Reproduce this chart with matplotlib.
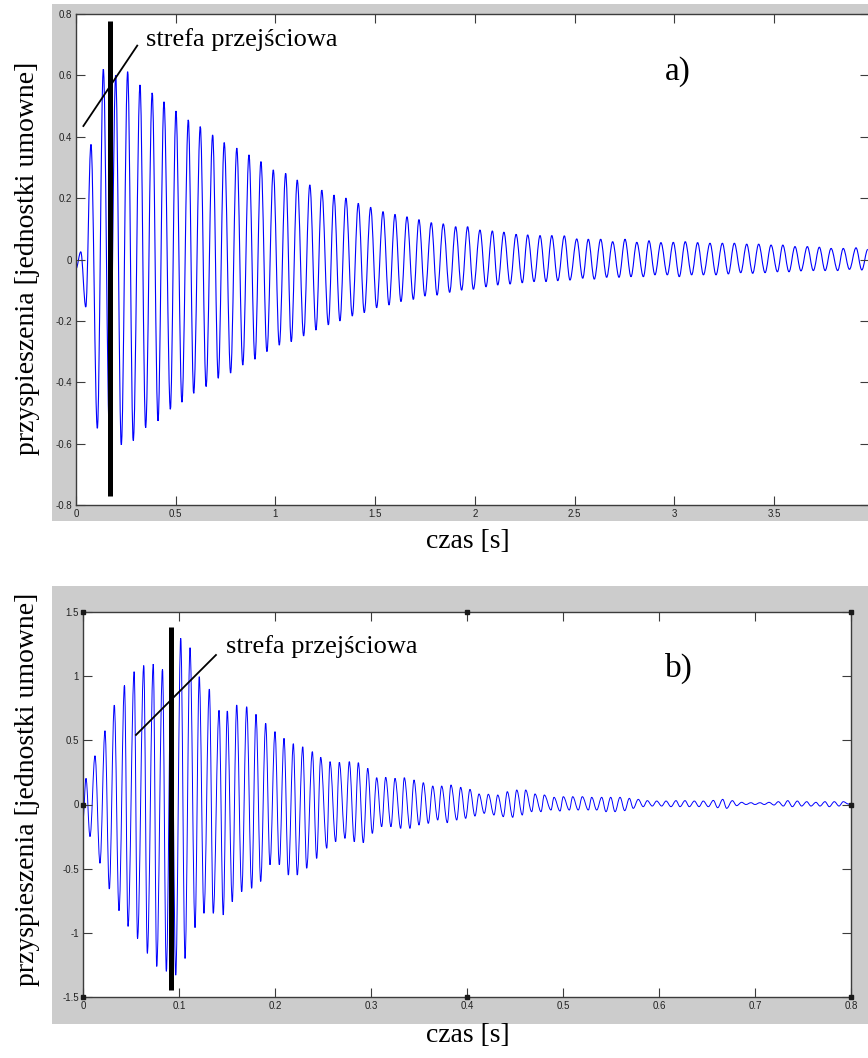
import matplotlib
matplotlib.use("Agg")
import matplotlib.pyplot as plt
from matplotlib.patches import Rectangle, PathPatch
from matplotlib.path import Path

matplotlib.rcParams['axes.unicode_minus'] = False

# --- dane (ekstrema kolejnych połówek okresu) ---
# a) czas [s] i przyspieszenie
t_top = [0.000, 0.024, 0.049, 0.075, 0.107, 0.137, 0.168, 0.199, 0.227, 0.259,
         0.287, 0.321, 0.349, 0.382, 0.411, 0.441, 0.473, 0.501, 0.531, 0.563,
         0.590, 0.623, 0.652, 0.685, 0.713, 0.743, 0.775, 0.806, 0.836, 0.867,
         0.897, 0.927, 0.957, 0.989, 1.019, 1.051, 1.079, 1.109, 1.141, 1.172,
         1.203, 1.232, 1.265, 1.293, 1.323, 1.353, 1.385, 1.415, 1.445, 1.477,
         1.507, 1.539, 1.569, 1.599, 1.629, 1.659, 1.691, 1.719, 1.749, 1.781,
         1.810, 1.841, 1.873, 1.903, 1.933, 1.963, 1.992, 2.025, 2.055, 2.087,
         2.114, 2.145, 2.176, 2.206, 2.237, 2.264, 2.296, 2.326, 2.356, 2.385,
         2.415, 2.448, 2.476, 2.510, 2.540, 2.568, 2.598, 2.630, 2.660, 2.690,
         2.722, 2.752, 2.782, 2.811, 2.844, 2.872, 2.902, 2.932, 2.964, 2.994,
         3.024, 3.054, 3.086, 3.116, 3.145, 3.178, 3.208, 3.240, 3.270, 3.300,
         3.332, 3.362, 3.392, 3.422, 3.454, 3.484, 3.516, 3.543, 3.574, 3.604,
         3.634, 3.666, 3.696, 3.726, 3.755, 3.785, 3.818, 3.846, 3.877, 3.910,
         3.939, 3.969]
a_top = [-0.03, 0.025, -0.155, 0.375, -0.55, 0.62, -0.58, 0.60, -0.604, 0.612,
         -0.59, 0.569, -0.548, 0.543, -0.526, 0.514, -0.488, 0.484, -0.465, 0.455,
         -0.436, 0.433, -0.414, 0.406, -0.387, 0.381, -0.37, 0.363, -0.344, 0.341,
         -0.325, 0.319, -0.30, 0.292, -0.279, 0.281, -0.268, 0.259, -0.249, 0.243,
         -0.23, 0.226, -0.213, 0.21, -0.2, 0.2, -0.184, 0.183, -0.173, 0.170,
         -0.157, 0.156, -0.148, 0.147, -0.137, 0.139, -0.130, 0.130, -0.119, 0.12,
         -0.116, 0.116, -0.107, 0.107, -0.10, 0.107, -0.097, 0.096, -0.089, 0.093,
         -0.083, 0.089, -0.08, 0.082, -0.076, 0.08, -0.072, 0.078, -0.072, 0.078,
         -0.069, 0.077, -0.067, 0.067, -0.061, 0.066, -0.064, 0.066, -0.058, 0.058,
         -0.058, 0.066, -0.056, 0.056, -0.056, 0.061, -0.05, 0.055, -0.05, 0.056,
         -0.056, 0.058, -0.05, 0.055, -0.05, 0.053, -0.05, 0.053, -0.047, 0.053,
         -0.043, 0.05, -0.045, 0.05, -0.043, 0.047, -0.04, 0.047, -0.04, 0.042,
         -0.037, 0.042, -0.036, 0.04, -0.036, 0.036, -0.036, 0.036, -0.032, 0.038,
         -0.034, 0.033]

# b) czas [s] i przyspieszenie
t_bot = [0.0, 0.0031, 0.0073, 0.0125, 0.0177, 0.0229, 0.0274, 0.0326, 0.0375, 0.0432,
         0.0469, 0.0533, 0.0568, 0.0633, 0.0670, 0.0732, 0.0768, 0.0828, 0.0868, 0.0920,
         0.0966, 0.1018, 0.1063, 0.1115, 0.1167, 0.1211, 0.1260, 0.1316, 0.1357, 0.1417,
         0.1461, 0.1503, 0.1555, 0.1601, 0.1653, 0.1705, 0.1757, 0.1802, 0.1851, 0.1903,
         0.1948, 0.2000, 0.2045, 0.2094, 0.2139, 0.2191, 0.2232, 0.2289, 0.2330, 0.2389,
         0.2434, 0.2476, 0.2539, 0.2573, 0.2632, 0.2670, 0.2729, 0.2774, 0.2826, 0.2868,
         0.2920, 0.2966, 0.3014, 0.3059, 0.3111, 0.3153, 0.3208, 0.3250, 0.3309, 0.3347,
         0.3406, 0.3448, 0.3500, 0.3545, 0.3597, 0.3643, 0.3695, 0.3736, 0.3795, 0.3833,
         0.3893, 0.3934, 0.3986, 0.4031, 0.4083, 0.4125, 0.4180, 0.4222, 0.4281, 0.4320,
         0.4378, 0.4420, 0.4476, 0.4518, 0.4576, 0.4611, 0.4674, 0.4708, 0.4771, 0.4805,
         0.4875, 0.4906, 0.4969, 0.5003, 0.5066, 0.5101, 0.5159, 0.5201, 0.5264, 0.5299,
         0.5351, 0.5403, 0.5448, 0.5497, 0.5542, 0.5594, 0.5643, 0.5691, 0.5732, 0.5784,
         0.5836, 0.5878, 0.5930, 0.5976, 0.6028, 0.6073, 0.6125, 0.6177, 0.6219, 0.6271,
         0.6316, 0.6368, 0.6417, 0.6461, 0.6514, 0.6566, 0.6611, 0.6664, 0.6705, 0.6764,
         0.6809, 0.6861, 0.6906, 0.6958, 0.7000, 0.7052, 0.7097, 0.7146, 0.7198, 0.7243,
         0.7295, 0.7341, 0.7389, 0.7441, 0.7486, 0.7539, 0.7583, 0.7635, 0.7677, 0.7729,
         0.7774, 0.7826, 0.7875, 0.7920, 0.7972, 0.8000]
a_bot = [-0.12, 0.204, -0.25, 0.38, -0.458, 0.575, -0.659, 0.775, -0.828, 0.93,
         -0.95, 1.035, -1.045, 1.083, -1.16, 1.094, -1.262, 1.055, -1.30, 1.15,
         -1.33, 1.295, -1.2, 1.222, -0.96, 0.996, -0.848, 0.9, -0.848, 0.734,
         -0.861, 0.729, -0.758, 0.776, -0.68, 0.762, -0.653, 0.703, -0.60, 0.633,
         -0.47, 0.568, -0.47, 0.516, -0.55, 0.474, -0.55, 0.45, -0.497, 0.412,
         -0.42, 0.368, -0.341, 0.334, -0.29, 0.329, -0.264, 0.334, -0.29, 0.326,
         -0.298, 0.282, -0.225, 0.209, -0.173, 0.212, -0.173, 0.204, -0.186, 0.209,
         -0.186, 0.191, -0.16, 0.17, -0.147, 0.144, -0.121, 0.144, -0.142, 0.152,
         -0.121, 0.134, -0.108, 0.118, -0.09, 0.082, -0.069, 0.08, -0.082, 0.074,
         -0.095, 0.1, -0.1, 0.113, -0.082, 0.113, -0.056, 0.082, -0.056, 0.074,
         -0.043, 0.056, -0.051, 0.061, -0.043, 0.061, -0.043, 0.061, -0.043, 0.056,
         -0.043, 0.056, -0.056, 0.056, -0.056, 0.056, -0.048, 0.048, -0.03, 0.04,
         -0.017, 0.03, -0.012, 0.027, -0.012, 0.027, -0.017, 0.03, -0.017, 0.03,
         -0.017, 0.027, -0.017, 0.027, -0.017, 0.032, -0.025, 0.04, -0.03, 0.03,
         -0.009, 0.017, 0.0, 0.014, 0.0, 0.014, 0.0, 0.017, -0.004, 0.022,
         -0.012, 0.03, -0.017, 0.027, -0.012, 0.022, -0.012, 0.017, -0.012, 0.022,
         -0.017, 0.022, -0.012, 0.022, 0.004, 0.0]

xticks_top = [0, 0.5, 1, 1.5, 2, 2.5, 3, 3.5]
xlabels_top = ["0", "0.5", "1", "1.5", "2", "2.5", "3", "3.5"]
yticks_top = [-0.8, -0.6, -0.4, -0.2, 0, 0.2, 0.4, 0.6, 0.8]
ylabels_top = ["-0.8", "-0.6", "-0.4", "-0.2", "0", "0.2", "0.4", "0.6", "0.8"]
xticks_bot = [0, 0.1, 0.2, 0.3, 0.4, 0.5, 0.6, 0.7, 0.8]
xlabels_bot = ["0", "0.1", "0.2", "0.3", "0.4", "0.5", "0.6", "0.7", "0.8"]
yticks_bot = [-1.5, -1, -0.5, 0, 0.5, 1, 1.5]
ylabels_bot = ["-1.5", "-1", "-0.5", "0", "0.5", "1", "1.5"]

# strefa przejściowa: czas i zakres pionowej kreski
zone_top = (0.170, -0.77, 0.778)
zone_bot = (0.0917, -1.446, 1.381)
# odcinek odnośnika (t1, a1, t2, a2)
pointer_top = (0.037, 0.435, 0.307, 0.697)
pointer_bot = (0.0552, 0.542, 0.1385, 1.165)

W, H = 868, 1058
fig = plt.figure(figsize=(W / 100, H / 100), dpi=100)
fig.patch.set_facecolor("white")


def box(l, t, r, b):
    return [l / W, 1 - b / H, (r - l) / W, (b - t) / H]


def wave(ax, t, a, lw):
    # przebieg rysowany krzywymi Beziera przez kolejne ekstrema (poziome styczne)
    verts = [(t[0], a[0])]
    codes = [Path.MOVETO]
    for i in range(1, len(t)):
        d = t[i] - t[i - 1]
        verts += [(t[i - 1] + 0.36 * d, a[i - 1]), (t[i] - 0.36 * d, a[i]), (t[i], a[i])]
        codes += [Path.CURVE4] * 3
    ax.add_patch(PathPatch(Path(verts, codes), facecolor="none",
                           edgecolor="#0000ff", lw=lw))


# szare tło w stylu okna MATLAB-a
for l, t, r, b in [(52, 4, 880, 521), (52, 586, 880, 1024)]:
    x0, y0, w, h = box(l, t, r, b)
    fig.patches.append(Rectangle((x0, y0), w, h, transform=fig.transFigure,
                                 facecolor="#cccccc", edgecolor="none", zorder=-10))

serif = ["Liberation Serif", "DejaVu Serif"]


def style(ax):
    ax.set_facecolor("white")
    ax.set_zorder(1)
    for s in ax.spines.values():
        s.set_color("#3c3c3c")
        s.set_linewidth(1.0)
    ax.tick_params(direction="in", length=6.5, width=0.8, color="#3c3c3c",
                   top=True, right=True, pad=3, labelsize=7, labelcolor="#222222")
    for lab in ax.get_xticklabels() + ax.get_yticklabels():
        lab.set_family("Liberation Sans")


# ---------- a) ----------
ax1 = fig.add_axes(box(76, 14, 869, 505))
wave(ax1, t_top, a_top, 0.8)
ax1.set_xlim(0, 3.975)
ax1.set_ylim(-0.8, 0.8)
ax1.set_xticks(xticks_top, xlabels_top)
ax1.set_yticks(yticks_top, ylabels_top)
style(ax1)
ax1.plot([zone_top[0]] * 2, zone_top[1:], color="black", lw=3.6, solid_capstyle="butt")
ax1.plot(pointer_top[0::2], pointer_top[1::2], color="black", lw=1.3)
ax1.text(0.351, 0.697, "strefa przejściowa", family=serif, fontsize=19, va="baseline")
ax1.text(2.95, 0.585, "a)", family=serif, fontsize=24, va="baseline")

# ---------- b) ----------
ax2 = fig.add_axes(box(83, 612, 851, 997))
wave(ax2, t_bot, a_bot, 0.7)
ax2.set_xlim(0, 0.8)
ax2.set_ylim(-1.5, 1.5)
ax2.set_xticks(xticks_bot, xlabels_bot)
ax2.set_yticks(yticks_bot, ylabels_bot)
style(ax2)
ax2.plot([zone_bot[0]] * 2, zone_bot[1:], color="black", lw=3.6, solid_capstyle="butt")
ax2.plot(pointer_bot[0::2], pointer_bot[1::2], color="black", lw=1.3)
ax2.text(0.1486, 1.178, "strefa przejściowa", family=serif, fontsize=19, va="baseline")
ax2.text(0.606, 0.994, "b)", family=serif, fontsize=24, va="baseline")
# uchwyty zaznaczenia osi
hx = [0, 0.4, 0.8, 0, 0.8, 0, 0.4, 0.8]
hy = [1.5, 1.5, 1.5, 0, 0, -1.5, -1.5, -1.5]
ax2.plot(hx, hy, ls="none", marker="s", ms=3.5, color="#1a1a1a", clip_on=False, zorder=5)

# opisy osi
for yc in (258, 789):
    fig.text(28 / W, 1 - yc / H, "przyspieszenia [jednostki umowne]", family=serif,
             fontsize=20, rotation=90, ha="center", va="center")
for xc, yc in ((468, 542), (468, 1035)):
    fig.text(xc / W, 1 - yc / H, "czas [s]", family=serif, fontsize=20,
             ha="center", va="center")

fig.savefig("out.png", dpi=100)
